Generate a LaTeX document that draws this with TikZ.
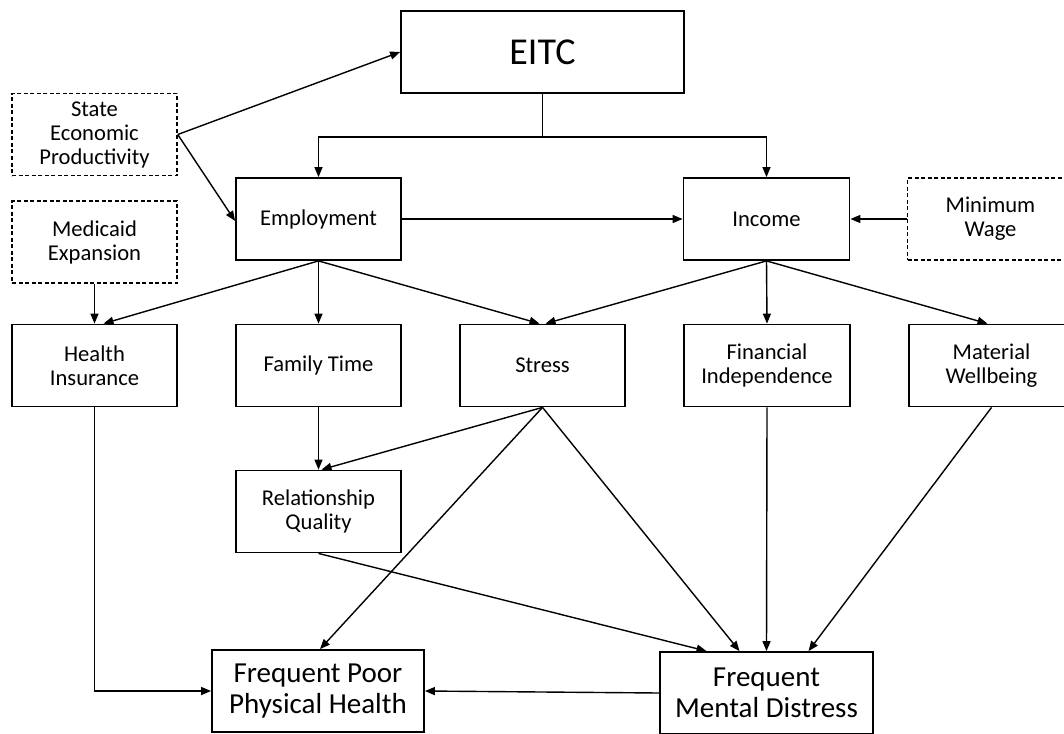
\documentclass[tikz,border=0pt]{standalone}
\usepackage{fontspec}
\setmainfont{Carlito}
\usetikzlibrary{arrows.meta}
\begin{document}
\begin{tikzpicture}[x=1pt,y=-1pt,
  box/.style={draw, line width=1.8pt, minimum width=165pt, minimum height=82pt, inner sep=2pt, align=center, font=\fontsize{22.6}{24}\selectfont},
  dbox/.style={box, dashed, dash pattern=on 4pt off 2.5pt, line width=1.5pt},
  bigbox/.style={box, minimum width=212pt, font=\fontsize{29}{31}\selectfont},
  arr/.style={line width=1.4pt, -{Triangle[length=10pt,width=8pt]}},
  ln/.style={line width=1.4pt}]
\clip (0,0) rectangle (1064,733);
\fill[white] (0,0) rectangle (1064,733);
% nodes
\node[box, minimum width=283pt, font=\fontsize{38}{40}\selectfont] (eitc) at (542.5,52) {EITC};
\node[dbox] (sep) at (94.5,134.5) {State\\Economic\\Productivity};
\node[dbox] (med) at (94.5,242) {Medicaid\\Expansion};
\node[box] (emp) at (318.5,219) {Employment};
\node[box, minimum width=166pt] (inc) at (766.5,219) {Income};
\node[dbox, minimum width=166pt] (minw) at (990.5,219) {Minimum\\Wage};
\node[box] (hi) at (94.5,365.5) {Health\\Insurance};
\node[box] (ft) at (318.5,365.5) {Family Time};
\node[box] (st) at (542.5,365.5) {Stress};
\node[box, minimum width=166pt] (fi) at (767,365.5) {Financial\\Independence};
\node[box] (mw) at (991.5,365.5) {Material\\Wellbeing};
\node[box] (rq) at (318.5,511.5) {Relationship\\Quality};
\node[bigbox] (fpph) at (318,691) {Frequent Poor\\Physical Health};
\node[bigbox, minimum width=213pt] (fmd) at (766.5,693) {Frequent\\Mental Distress};
% connectors
\draw[arr] (sep.east) -- (eitc.west);
\draw[arr] (sep.east) -- ([yshift=-2]emp.west);
\draw[ln] (eitc.south) -- ++(0,43) coordinate (split);
\draw[arr] (split) -| (emp.north);
\draw[arr] (split) -| (inc.north);
\draw[arr] (emp.east) -- (inc.west);
\draw[arr] (minw.west) -- (inc.east);
\draw[arr] (med.south) -- (hi.north);
\draw[arr] (emp.south) -- ([xshift=9]hi.north);
\draw[arr] (emp.south) -- (ft.north);
\draw[arr] (emp.south) -- ([xshift=-3]st.north);
\draw[arr] (inc.south) -- ([xshift=3]st.north);
\draw[arr] (inc.south) -- (fi.north);
\draw[arr] (inc.south) -- ([xshift=-4]mw.north);
\draw[arr] (ft.south) -- (rq.north);
\draw[arr] (st.south) -- ([xshift=3]rq.north);
\draw[arr] (st.south) -- ([xshift=2]fpph.north);
\draw[arr] (st.south) -- ([xshift=-27]fmd.north);
\draw[arr] (rq.south) -- ([xshift=-60]fmd.north);
\draw[arr] (fi.south) -- (fmd.north);
\draw[arr] (mw.south) -- ([xshift=42]fmd.north);
\draw[arr] (hi.south) |- (fpph.west);
\draw[arr] (fmd.west) -- (fpph.east);
\end{tikzpicture}
\end{document}
